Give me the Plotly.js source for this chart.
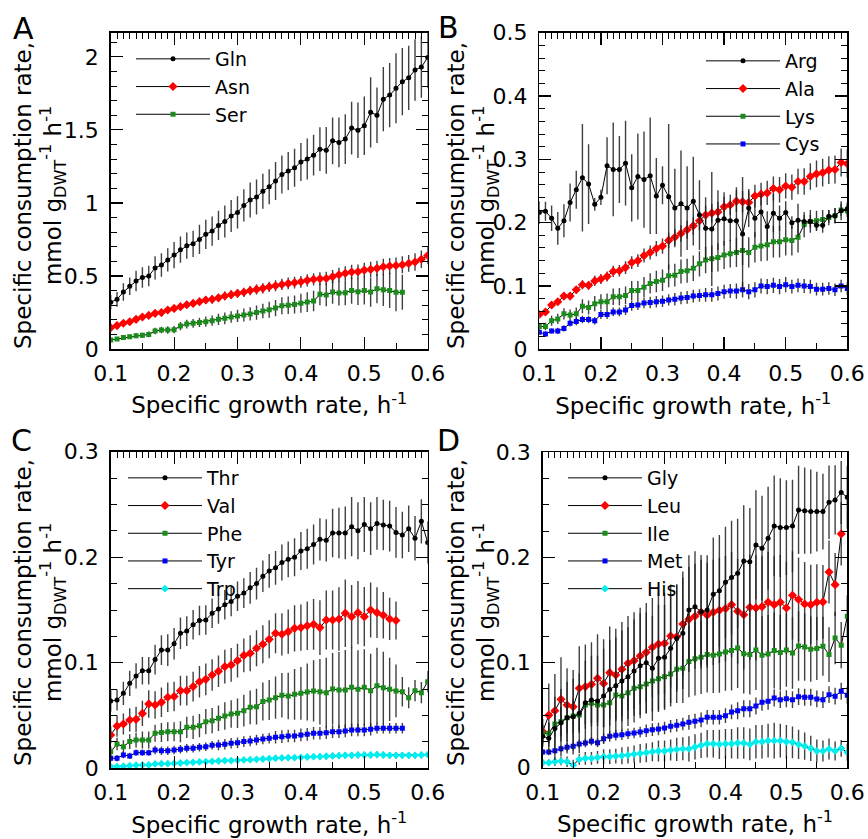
<!DOCTYPE html>
<html><head><meta charset="utf-8">
<script src="https://cdn.plot.ly/plotly-3.0.1.min.js"></script>
<style>html,body{margin:0;padding:0;background:#fff}</style>
</head><body><div id="chart" style="width:868px;height:839px"></div>
<script>
// ---------- data ----------
const growthRate = [0.10,0.11,0.12,0.13,0.14,0.15,0.16,0.17,0.18,0.19,0.20,0.21,0.22,0.23,0.24,0.25,0.26,0.27,0.28,0.29,0.30,0.31,0.32,0.33,0.34,0.35,0.36,0.37,0.38,0.39,0.40,0.41,0.42,0.43,0.44,0.45,0.46,0.47,0.48,0.49,0.50,0.51,0.52,0.53,0.54,0.55,0.56,0.57,0.58,0.59,0.60];
const xTickLabels = ['0.1','0.2','0.3','0.4','0.5','0.6'];
const xTitle = 'Specific growth rate, h<sup>-1</sup>';
const yTitle = 'Specific consumption rate,<br>mmol g<sub>DWT</sub><sup>-1</sup> h<sup>-1</sup>';
const panelLetters = ['A','B','C','D'];

// Panel A
const gln = [0.32,0.34,0.39,0.43,0.465,0.49,0.50,0.555,0.575,0.61,0.643,0.68,0.707,0.72,0.75,0.785,0.807,0.846,0.873,0.91,0.935,0.983,1.02,1.04,1.08,1.11,1.15,1.195,1.218,1.24,1.28,1.30,1.327,1.368,1.36,1.425,1.414,1.437,1.512,1.498,1.528,1.62,1.60,1.71,1.738,1.785,1.83,1.856,1.91,1.93,1.995];
const glnErr = [0.05,0.05,0.06,0.06,0.07,0.07,0.07,0.08,0.08,0.08,0.09,0.09,0.09,0.09,0.10,0.10,0.10,0.10,0.11,0.11,0.11,0.11,0.12,0.12,0.12,0.12,0.13,0.13,0.13,0.13,0.13,0.14,0.14,0.15,0.16,0.16,0.17,0.17,0.18,0.19,0.20,0.24,0.19,0.22,0.22,0.24,0.23,0.22,0.21,0.21,0.21];
const asn = [0.146,0.16,0.176,0.187,0.203,0.219,0.23,0.244,0.249,0.267,0.278,0.29,0.303,0.312,0.324,0.335,0.34,0.35,0.363,0.372,0.381,0.388,0.40,0.408,0.415,0.426,0.433,0.442,0.449,0.454,0.46,0.47,0.477,0.481,0.483,0.495,0.508,0.518,0.527,0.529,0.54,0.545,0.552,0.563,0.568,0.572,0.577,0.586,0.595,0.614,0.64];
const asnErr = [0.01,0.01,0.012,0.012,0.015,0.015,0.015,0.018,0.018,0.02,0.02,0.022,0.022,0.025,0.025,0.025,0.028,0.028,0.03,0.03,0.03,0.032,0.032,0.035,0.035,0.035,0.038,0.038,0.04,0.04,0.04,0.042,0.042,0.045,0.045,0.045,0.048,0.048,0.05,0.05,0.05,0.052,0.052,0.055,0.055,0.055,0.058,0.058,0.06,0.06,0.06];
const ser = [0.062,0.068,0.078,0.084,0.091,0.094,0.10,0.123,0.13,0.13,0.132,0.157,0.171,0.176,0.182,0.187,0.194,0.203,0.21,0.219,0.226,0.233,0.24,0.249,0.26,0.269,0.28,0.296,0.299,0.305,0.313,0.321,0.328,0.374,0.37,0.39,0.383,0.385,0.40,0.392,0.40,0.39,0.413,0.405,0.40,0.388,0.388];
const serErr = [0.012,0.012,0.015,0.015,0.018,0.018,0.02,0.022,0.022,0.025,0.025,0.028,0.03,0.03,0.032,0.035,0.035,0.038,0.04,0.04,0.042,0.045,0.045,0.048,0.05,0.055,0.055,0.058,0.06,0.062,0.065,0.068,0.07,0.075,0.078,0.08,0.085,0.085,0.09,0.09,0.095,0.1,0.1,0.11,0.12,0.13,0.12];

// Panel B
const arg = [0.216,0.218,0.207,0.191,0.203,0.232,0.252,0.271,0.261,0.229,0.240,0.290,0.284,0.284,0.294,0.255,0.273,0.268,0.274,0.242,0.259,0.241,0.223,0.230,0.223,0.234,0.212,0.191,0.190,0.204,0.206,0.203,0.203,0.182,0.223,0.207,0.217,0.194,0.215,0.207,0.216,0.200,0.204,0.202,0.202,0.196,0.196,0.210,0.211,0.219,0.222];
const argErr = [0.018,0.015,0.02,0.026,0.026,0.03,0.03,0.085,0.063,0.01,0.012,0.045,0.074,0.053,0.067,0.053,0.068,0.076,0.092,0.06,0.03,0.115,0.062,0.084,0.066,0.07,0.055,0.049,0.09,0.047,0.042,0.032,0.053,0.09,0.03,0.03,0.03,0.024,0.03,0.02,0.018,0.01,0.026,0.01,0.01,0.008,0.012,0.01,0.012,0.015,0.01];
const ala = [0.055,0.059,0.07,0.075,0.084,0.084,0.094,0.102,0.101,0.108,0.111,0.115,0.123,0.124,0.129,0.137,0.14,0.148,0.153,0.159,0.163,0.172,0.177,0.183,0.189,0.195,0.203,0.212,0.215,0.217,0.225,0.228,0.234,0.233,0.232,0.242,0.245,0.247,0.254,0.252,0.258,0.256,0.265,0.265,0.273,0.277,0.279,0.283,0.284,0.295,0.293];
const alaErr = [0.004,0.004,0.005,0.005,0.006,0.006,0.006,0.007,0.007,0.008,0.008,0.008,0.009,0.009,0.01,0.01,0.01,0.011,0.011,0.012,0.012,0.012,0.013,0.013,0.014,0.014,0.015,0.015,0.015,0.016,0.016,0.016,0.017,0.017,0.018,0.018,0.018,0.019,0.019,0.02,0.02,0.02,0.02,0.021,0.021,0.021,0.022,0.022,0.022,0.022,0.022];
const lys = [0.036,0.036,0.045,0.048,0.056,0.054,0.056,0.068,0.066,0.072,0.075,0.075,0.083,0.083,0.085,0.093,0.093,0.098,0.104,0.107,0.109,0.116,0.117,0.123,0.124,0.128,0.135,0.141,0.143,0.145,0.149,0.151,0.153,0.156,0.153,0.161,0.163,0.165,0.17,0.17,0.173,0.172,0.177,0.197,0.202,0.203,0.205,0.208,0.211,0.22,0.219];
const lysErr = [0.006,0.006,0.008,0.008,0.009,0.009,0.01,0.011,0.011,0.012,0.012,0.013,0.013,0.014,0.014,0.015,0.015,0.016,0.016,0.017,0.017,0.018,0.018,0.019,0.019,0.02,0.02,0.021,0.021,0.022,0.022,0.022,0.023,0.023,0.024,0.024,0.024,0.025,0.025,0.025,0.025,0.024,0.024,0.02,0.018,0.016,0.015,0.012,0.012,0.01,0.01];
const cys = [0.027,0.024,0.029,0.029,0.033,0.041,0.044,0.047,0.047,0.045,0.055,0.055,0.059,0.059,0.062,0.069,0.07,0.073,0.074,0.075,0.076,0.078,0.079,0.081,0.082,0.084,0.085,0.086,0.086,0.088,0.091,0.092,0.092,0.094,0.091,0.094,0.1,0.099,0.101,0.099,0.102,0.099,0.101,0.1,0.099,0.095,0.095,0.096,0.094,0.1,0.096];
const cysErr = [0.004,0.004,0.004,0.005,0.005,0.005,0.006,0.006,0.006,0.006,0.007,0.007,0.007,0.007,0.008,0.008,0.008,0.008,0.009,0.009,0.009,0.009,0.01,0.01,0.01,0.01,0.01,0.011,0.011,0.011,0.011,0.011,0.012,0.012,0.012,0.012,0.012,0.012,0.012,0.012,0.012,0.011,0.011,0.011,0.011,0.01,0.01,0.01,0.01,0.01,0.01];

// Panel C
const thr = [0.0638,0.0647,0.071,0.0805,0.0875,0.0925,0.0925,0.103,0.112,0.112,0.118,0.128,0.13,0.136,0.14,0.1405,0.147,0.151,0.155,0.158,0.163,0.166,0.171,0.175,0.182,0.187,0.19,0.195,0.198,0.2,0.206,0.208,0.212,0.217,0.216,0.223,0.223,0.223,0.229,0.225,0.231,0.227,0.232,0.2305,0.2295,0.2235,0.221,0.227,0.218,0.234,0.214];
const thrErr = [0.01,0.01,0.011,0.012,0.012,0.013,0.013,0.014,0.014,0.015,0.015,0.015,0.014,0.014,0.014,0.014,0.014,0.014,0.014,0.014,0.014,0.014,0.015,0.015,0.015,0.016,0.016,0.017,0.017,0.018,0.018,0.019,0.019,0.02,0.02,0.023,0.024,0.025,0.028,0.027,0.026,0.025,0.025,0.024,0.024,0.024,0.022,0.022,0.021,0.021,0.02];
const val = [0.0316,0.04,0.042,0.0458,0.0464,0.052,0.061,0.06,0.0625,0.0673,0.068,0.0736,0.0736,0.0774,0.082,0.0843,0.0884,0.092,0.0963,0.098,0.102,0.107,0.109,0.1137,0.1175,0.1222,0.128,0.127,0.1295,0.1326,0.1333,0.135,0.1364,0.1333,0.1405,0.1405,0.1415,0.147,0.1437,0.1475,0.1437,0.15,0.1475,0.145,0.1415,0.14];
const valErr = [0.008,0.01,0.01,0.011,0.012,0.012,0.013,0.013,0.014,0.014,0.014,0.014,0.014,0.014,0.015,0.015,0.015,0.015,0.016,0.016,0.016,0.016,0.017,0.017,0.018,0.018,0.019,0.02,0.021,0.022,0.022,0.023,0.024,0.026,0.028,0.028,0.03,0.032,0.03,0.03,0.028,0.026,0.024,0.022,0.02,0.018];
const phe = [0.0158,0.023,0.0205,0.0253,0.0268,0.0268,0.0268,0.0332,0.034,0.0347,0.0347,0.0347,0.0388,0.0388,0.0404,0.0442,0.0451,0.0474,0.0496,0.0515,0.0521,0.0546,0.0578,0.0584,0.0632,0.0647,0.0669,0.0692,0.0685,0.0701,0.071,0.0723,0.0733,0.0726,0.0717,0.0752,0.0742,0.0742,0.0767,0.0748,0.0767,0.0736,0.0783,0.0764,0.0748,0.0733,0.0726,0.0669,0.0736,0.0717,0.0821];
const pheErr = [0.005,0.006,0.006,0.007,0.007,0.008,0.008,0.008,0.009,0.009,0.009,0.01,0.01,0.011,0.011,0.012,0.012,0.012,0.013,0.013,0.014,0.015,0.016,0.017,0.018,0.019,0.02,0.021,0.022,0.024,0.025,0.027,0.029,0.031,0.033,0.034,0.036,0.038,0.038,0.037,0.036,0.035,0.036,0.034,0.03,0.025,0.014,0.01,0.01,0.01,0.01];
const tyr = [0.0095,0.0095,0.0126,0.0117,0.0148,0.0148,0.0148,0.0174,0.0167,0.0167,0.0174,0.018,0.019,0.019,0.02,0.0205,0.0218,0.0221,0.0227,0.0237,0.0243,0.0253,0.0259,0.0268,0.0278,0.0284,0.0294,0.03,0.0306,0.0306,0.0316,0.0322,0.0332,0.0332,0.0338,0.0347,0.0347,0.0354,0.0363,0.0363,0.0363,0.037,0.0379,0.0379,0.0379,0.0379,0.0379];
const tyrErr = [0.003,0.003,0.003,0.003,0.003,0.003,0.003,0.004,0.004,0.004,0.004,0.004,0.004,0.004,0.004,0.004,0.004,0.005,0.005,0.005,0.005,0.005,0.005,0.005,0.005,0.005,0.006,0.006,0.006,0.006,0.006,0.006,0.006,0.006,0.006,0.006,0.006,0.006,0.006,0.006,0.006,0.006,0.005,0.005,0.005,0.005,0.005];
const trp = [0.0016,0.0016,0.002,0.0025,0.003,0.0032,0.0032,0.0041,0.0044,0.0044,0.0047,0.005,0.0054,0.0057,0.006,0.0063,0.0066,0.0069,0.0073,0.0073,0.0076,0.0079,0.0082,0.0085,0.0088,0.0092,0.0095,0.0098,0.0101,0.0101,0.0104,0.0107,0.011,0.011,0.0114,0.0117,0.012,0.0123,0.0123,0.0126,0.0126,0.0126,0.013,0.0126,0.0123,0.0123,0.0123,0.0123,0.0123,0.0126,0.013];
const trpErr = [0.001,0.001,0.001,0.001,0.001,0.001,0.001,0.0015,0.0015,0.0015,0.0015,0.0015,0.0015,0.0015,0.002,0.002,0.002,0.002,0.002,0.002,0.002,0.002,0.002,0.002,0.0025,0.0025,0.0025,0.0025,0.0025,0.0025,0.0025,0.0025,0.0025,0.003,0.003,0.003,0.003,0.003,0.003,0.003,0.003,0.003,0.003,0.003,0.003,0.003,0.003,0.003,0.003,0.003,0.003];

// Panel D
const gly = [0.030,0.028,0.0374,0.0428,0.0476,0.0485,0.0517,0.0618,0.0644,0.0634,0.0682,0.0745,0.078,0.0825,0.0866,0.092,0.097,0.0999,0.0945,0.104,0.105,0.1135,0.123,0.1278,0.15,0.153,0.1484,0.15,0.165,0.1684,0.1763,0.1808,0.1849,0.1966,0.196,0.2119,0.2087,0.2182,0.23,0.2284,0.2284,0.23,0.2452,0.2445,0.2436,0.2436,0.2436,0.2525,0.2547,0.2617,0.2572];
const glyErr = [0.01,0.015,0.03,0.032,0.034,0.036,0.038,0.04,0.042,0.043,0.045,0.047,0.046,0.048,0.047,0.049,0.05,0.048,0.05,0.051,0.05,0.052,0.051,0.053,0.052,0.053,0.054,0.052,0.054,0.053,0.053,0.054,0.052,0.053,0.051,0.052,0.05,0.049,0.048,0.047,0.045,0.044,0.042,0.041,0.04,0.038,0.036,0.035,0.033,0.03,0.03];
const leu = [0.0343,0.05,0.0542,0.065,0.0596,0.058,0.0755,0.0771,0.0793,0.085,0.0802,0.0904,0.0882,0.0936,0.0993,0.1018,0.1062,0.1097,0.1145,0.1177,0.1183,0.1253,0.1246,0.1367,0.1411,0.144,0.1478,0.145,0.1478,0.1497,0.1513,0.1551,0.1488,0.1456,0.1526,0.152,0.1532,0.1574,0.1551,0.1574,0.152,0.164,0.16,0.1557,0.1551,0.1574,0.1577,0.1862,0.1741,0.2224];
const leuErr = [0.012,0.03,0.035,0.04,0.035,0.035,0.04,0.04,0.04,0.042,0.042,0.044,0.044,0.045,0.045,0.046,0.046,0.047,0.047,0.048,0.048,0.049,0.05,0.05,0.05,0.05,0.05,0.05,0.05,0.05,0.05,0.05,0.05,0.052,0.05,0.05,0.048,0.048,0.046,0.045,0.044,0.042,0.04,0.04,0.038,0.036,0.035,0.03,0.03,0.03];
const ile = [0.0327,0.0327,0.0415,0.0438,0.0476,0.0492,0.0501,0.0596,0.0612,0.0596,0.0596,0.0618,0.0691,0.0682,0.0714,0.0755,0.0771,0.0796,0.0825,0.0847,0.0866,0.0891,0.0936,0.0945,0.1009,0.1037,0.105,0.1076,0.107,0.1082,0.1101,0.1114,0.1139,0.1085,0.1076,0.112,0.107,0.1082,0.1114,0.1095,0.112,0.1092,0.1158,0.1148,0.1127,0.1133,0.1155,0.1076,0.1234,0.1165,0.144];
const ileErr = [0.008,0.01,0.012,0.014,0.015,0.016,0.017,0.018,0.019,0.02,0.021,0.022,0.023,0.024,0.025,0.026,0.027,0.028,0.029,0.03,0.03,0.031,0.032,0.033,0.034,0.035,0.035,0.036,0.036,0.037,0.037,0.038,0.038,0.038,0.038,0.038,0.037,0.037,0.036,0.036,0.035,0.034,0.033,0.032,0.031,0.03,0.028,0.026,0.025,0.022,0.02];
const met = [0.0149,0.0149,0.0162,0.0181,0.0194,0.0203,0.0225,0.0235,0.0251,0.0238,0.0276,0.0298,0.0308,0.0314,0.0324,0.033,0.034,0.0352,0.0362,0.0368,0.0378,0.0394,0.0403,0.0416,0.0432,0.0442,0.0454,0.048,0.048,0.048,0.0495,0.053,0.0542,0.0561,0.0561,0.0587,0.0622,0.0632,0.0663,0.0647,0.0656,0.0647,0.0676,0.067,0.067,0.0654,0.0647,0.0695,0.068,0.0727,0.0689];
const metErr = [0.003,0.003,0.003,0.003,0.004,0.004,0.004,0.004,0.004,0.004,0.005,0.005,0.005,0.005,0.005,0.005,0.005,0.006,0.006,0.006,0.006,0.006,0.006,0.006,0.007,0.007,0.007,0.007,0.007,0.007,0.007,0.007,0.008,0.008,0.008,0.008,0.008,0.008,0.008,0.008,0.008,0.008,0.008,0.008,0.008,0.008,0.008,0.008,0.008,0.008,0.008];
const his = [0.0048,0.0048,0.0057,0.0063,0.0057,0.0025,0.0079,0.0089,0.0089,0.0098,0.0105,0.0105,0.0111,0.0114,0.012,0.013,0.0136,0.0143,0.0152,0.0159,0.0159,0.0168,0.0174,0.018,0.018,0.0197,0.0213,0.0228,0.0228,0.0222,0.0228,0.0228,0.0235,0.0235,0.0222,0.0247,0.0247,0.0257,0.0257,0.0257,0.0247,0.0241,0.0222,0.0206,0.0184,0.0159,0.0159,0.0178,0.0159,0.0184,0.0146];
const hisErr = [0.003,0.003,0.004,0.004,0.005,0.005,0.005,0.006,0.006,0.006,0.007,0.007,0.007,0.008,0.008,0.008,0.009,0.009,0.009,0.01,0.01,0.01,0.011,0.011,0.012,0.012,0.012,0.013,0.013,0.014,0.014,0.014,0.015,0.015,0.015,0.016,0.016,0.016,0.017,0.016,0.016,0.015,0.014,0.013,0.012,0.011,0.01,0.01,0.009,0.008,0.008];

// ---------- styling ----------
const FONT = 'DejaVu Sans';
const W = 868, H = 839;
const px = v => v / W, py = v => 1 - v / H;
const STY = {
  black: {color:'#000000', symbol:'circle', size:5},
  red:   {color:'#ff0000', symbol:'diamond', size:7},
  green: {color:'#1a8c1a', symbol:'square', size:5},
  blue:  {color:'#0000ff', symbol:'square', size:5},
  cyan:  {color:'#00eeee', symbol:'diamond', size:6}
};
function series(name, y, err, sty, xa, ya, leg) {
  const s = STY[sty];
  return {
    type:'scatter', mode:'lines+markers', name:name,
    x: growthRate.slice(0, y.length), y: y,
    xaxis: xa, yaxis: ya, legend: leg,
    line:{color:'#000', width:1},
    marker:{color:s.color, symbol:s.symbol, size:s.size, line:{width:0}},
    error_y:{type:'data', array:err, visible:true, color:'rgba(30,30,30,0.85)', thickness:1.4, width:0}
  };
}
// the first series of each panel lives on that panel's top x axis (same range) so the top ticks are drawn
const data = [
  series('Gln', gln, glnErr, 'black', 'x5', 'y', 'legend'),
  series('Asn', asn, asnErr, 'red', 'x', 'y', 'legend'),
  series('Ser', ser, serErr, 'green', 'x', 'y', 'legend'),
  series('Arg', arg, argErr, 'black', 'x6', 'y2', 'legend2'),
  series('Ala', ala, alaErr, 'red', 'x2', 'y2', 'legend2'),
  series('Lys', lys, lysErr, 'green', 'x2', 'y2', 'legend2'),
  series('Cys', cys, cysErr, 'blue', 'x2', 'y2', 'legend2'),
  series('Thr', thr, thrErr, 'black', 'x7', 'y3', 'legend3'),
  series('Val', val, valErr, 'red', 'x3', 'y3', 'legend3'),
  series('Phe', phe, pheErr, 'green', 'x3', 'y3', 'legend3'),
  series('Tyr', tyr, tyrErr, 'blue', 'x3', 'y3', 'legend3'),
  series('Trp', trp, trpErr, 'cyan', 'x3', 'y3', 'legend3'),
  series('Gly', gly, glyErr, 'black', 'x8', 'y4', 'legend4'),
  series('Leu', leu, leuErr, 'red', 'x4', 'y4', 'legend4'),
  series('Ile', ile, ileErr, 'green', 'x4', 'y4', 'legend4'),
  series('Met', met, metErr, 'blue', 'x4', 'y4', 'legend4'),
  series('His', his, hisErr, 'cyan', 'x4', 'y4', 'legend4')
];

const tickFont = {family:FONT, size:22, color:'#000'};
const titleFont = {family:FONT, size:23, color:'#000'};
const xTickVals = xTickLabels.map(Number);
function xAxis(l, r, anchor) {
  return {domain:[px(l), px(r)], anchor:anchor, range:[0.1, 0.6],
    tickmode:'array', tickvals:xTickVals, ticktext:xTickLabels,
    ticks:'inside', ticklen:12, tickwidth:1.2, tickcolor:'#000',
    minor:{tick0:0.1, dtick:0.05, ticks:'inside', ticklen:6, tickwidth:1, tickcolor:'#000'},
    showline:true, linecolor:'#000', linewidth:1.5, mirror:true,
    showgrid:false, zeroline:false, automargin:false, fixedrange:true,
    tickfont:tickFont, ticklabelstandoff:4,
    title:{text:xTitle, font:titleFont, standoff:12}};
}
function topAxis(over, anchor) {
  return {overlaying:over, anchor:anchor, side:'top', range:[0.1, 0.6],
    tick0:0.1, dtick:0.1, ticks:'inside', ticklen:12, tickwidth:1.2, tickcolor:'#000',
    minor:{tick0:0.1, dtick:0.01, ticks:'inside', ticklen:6, tickwidth:1, tickcolor:'#000'},
    showticklabels:false, showline:false, showgrid:false, zeroline:false, fixedrange:true};
}
function yAxis(t, b, anchor, range, dtick, mdtick) {
  return {domain:[py(b), py(t)], anchor:anchor, range:range,
    tick0:0, dtick:dtick, ticks:'inside', ticklen:12, tickwidth:1.2, tickcolor:'#000',
    minor:{tick0:0, dtick:mdtick, ticks:'inside', ticklen:6, tickwidth:1, tickcolor:'#000'},
    showline:true, linecolor:'#000', linewidth:1.5, mirror:'ticks',
    showgrid:false, zeroline:false, automargin:false, fixedrange:true,
    tickfont:tickFont, ticklabelstandoff:6};
}
function legendAt(x, y) {
  return {x:px(x), y:py(y), xanchor:'left', yanchor:'top', bgcolor:'rgba(0,0,0,0)',
    borderwidth:0, font:{family:FONT, size:19, color:'#000'}, itemwidth:74, tracegroupgap:0};
}
function letter(t, x, y) {
  return {text:t, x:px(x), y:py(y), xref:'paper', yref:'paper', showarrow:false,
    xanchor:'center', yanchor:'middle', font:{family:FONT, size:30, color:'#000'}};
}
function yTitleAt(x, y) {
  return {text:yTitle, x:px(x), y:py(y), xref:'paper', yref:'paper', showarrow:false,
    textangle:-90, xanchor:'center', yanchor:'middle', align:'center',
    font:{family:FONT, size:23, color:'#000'}};
}

const layout = {
  width:W, height:H, margin:{l:0, r:0, t:0, b:0},
  paper_bgcolor:'#fff', plot_bgcolor:'#fff', showlegend:true,
  xaxis: xAxis(110.7, 427.7, 'y'),
  yaxis: yAxis(32.7, 349, 'x', [0, 2.165], 0.5, 0.1),
  xaxis2: xAxis(539.3, 847.3, 'y2'),
  yaxis2: yAxis(32.7, 349.3, 'x2', [0, 0.5], 0.1, 0.02),
  xaxis3: xAxis(110.7, 427.7, 'y3'),
  yaxis3: yAxis(451.7, 768.3, 'x3', [0, 0.3], 0.1, 0.025),
  xaxis4: xAxis(542.7, 847.3, 'y4'),
  yaxis4: yAxis(452.3, 767.7, 'x4', [0, 0.3], 0.1, 0.025),
  xaxis5: topAxis('x', 'y'),
  xaxis6: topAxis('x2', 'y2'),
  xaxis7: topAxis('x3', 'y3'),
  xaxis8: topAxis('x4', 'y4'),
  legend: legendAt(131, 40),
  legend2: legendAt(701, 42),
  legend3: legendAt(123, 459),
  legend4: legendAt(563, 459),
  annotations:[
    letter(panelLetters[0], 23, 29), letter(panelLetters[1], 449, 28),
    letter(panelLetters[2], 21, 440), letter(panelLetters[3], 449, 440),
    yTitleAt(40, 196), yTitleAt(473, 196), yTitleAt(40, 613), yTitleAt(473, 613)
  ]
};
Plotly.newPlot('chart', data, layout, {staticPlot:true, displayModeBar:false});
</script></body></html>
